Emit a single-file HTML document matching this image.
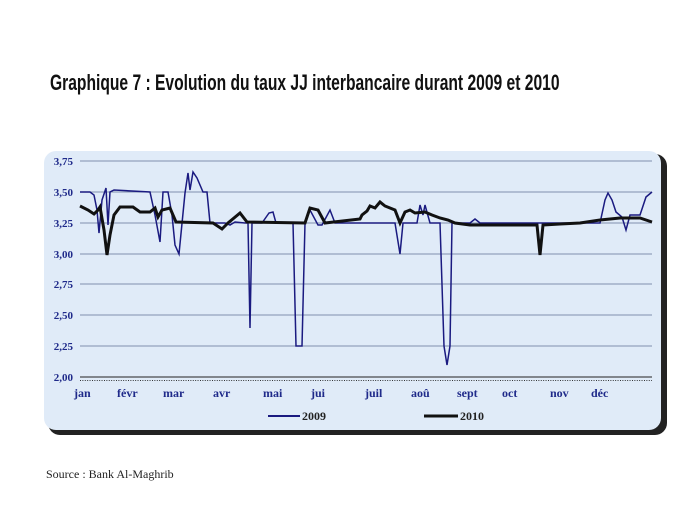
<!DOCTYPE html>
<html><head><meta charset="utf-8"><style>
body{margin:0;background:#fff;width:682px;height:512px;overflow:hidden;position:relative;font-family:"Liberation Serif",serif}
.t{position:absolute;left:50px;top:70px;font-family:"Liberation Sans",sans-serif;font-weight:bold;font-size:22px;transform:scaleX(0.71);transform-origin:left top;white-space:nowrap;color:#111}
.src{position:absolute;left:46px;top:467px;font-size:12px;color:#222}
</style></head><body>
<div class="t">Graphique 7 : Evolution du taux JJ interbancaire durant 2009 et 2010</div>
<svg width="682" height="512" style="position:absolute;left:0;top:0">
<defs><pattern id="tk" x="80" y="0" width="2.4" height="10" patternUnits="userSpaceOnUse"><rect x="0" y="0" width="0.9" height="4" fill="#222"/></pattern></defs>
<rect x="48" y="154" width="619" height="281" rx="12" fill="#222"/>
<rect x="44" y="151" width="617" height="279" rx="12" fill="#e0ebf8"/>
<g stroke="#7f8fae" stroke-width="1">
<line x1="80" x2="652" y1="161" y2="161"/><line x1="80" x2="652" y1="192" y2="192"/><line x1="80" x2="652" y1="223" y2="223"/><line x1="80" x2="652" y1="254" y2="254"/><line x1="80" x2="652" y1="284" y2="284"/><line x1="80" x2="652" y1="315" y2="315"/><line x1="80" x2="652" y1="346" y2="346"/>
</g>
<line x1="80" x2="652" y1="377" y2="377" stroke="#222"/>
<rect x="80" y="377" width="572" height="4" fill="url(#tk)"/>
<g font-weight="bold" font-size="11" fill="#1f2a8a" font-family="Liberation Serif,serif">
<text x="73" y="165" text-anchor="end">3,75</text><text x="73" y="196" text-anchor="end">3,50</text><text x="73" y="227" text-anchor="end">3,25</text><text x="73" y="258" text-anchor="end">3,00</text><text x="73" y="288" text-anchor="end">2,75</text><text x="73" y="319" text-anchor="end">2,50</text><text x="73" y="350" text-anchor="end">2,25</text><text x="73" y="381" text-anchor="end">2,00</text>
<g font-size="12"><text x="74" y="397">jan</text><text x="117" y="397">févr</text><text x="163" y="397">mar</text><text x="213" y="397">avr</text><text x="263" y="397">mai</text><text x="311" y="397">jui</text><text x="365" y="397">juil</text><text x="411" y="397">aoû</text><text x="457" y="397">sept</text><text x="502" y="397">oct</text><text x="550" y="397">nov</text><text x="591" y="397">déc</text></g>
</g>
<polyline fill="none" stroke="#1a1a80" stroke-width="1.5" points="80,192 90,192 94,195 97,210 99,233 102,200 106,188 108,225 110,192 114,190 150,192 155,215 160,242 163,192 168,192 172,215 175,245 179,254 185,193 188,173 190,190 193,172 197,178 203,192 207,192 210,223 225,223 230,225 235,222 245,223 248,223 250,328 252,223 262,223 269,213 273,212 276,223 293,223 296,346 302,346 305,223 310,210 318,225 322,225 330,210 335,223 395,223 400,254 403,223 417,223 420,205 423,215 425,205 430,223 440,223 444,346 447,365 450,346 452,223 470,223 475,219 480,223 600,223 605,200 608,193 612,200 616,212 622,217 626,230 630,215 640,215 646,197 652,192"/>
<polyline fill="none" stroke="#111" stroke-width="3" points="80,206 88,210 94,214 98,210 100,207 104,230 107,255 110,235 114,215 120,207 133,207 140,212 150,212 155,208 158,217 162,210 170,208 176,222 213,223 222,229 228,223 240,213 247,222 305,223 310,208 318,210 325,223 360,219 362,215 367,211 370,206 375,208 380,202 385,206 390,208 395,210 400,223 405,212 410,210 415,213 425,212 432,215 440,218 448,220 455,223 470,225 530,225 537,225 540,255 543,225 560,224 580,223 600,220 620,218 640,218 652,222"/>
<line x1="268" x2="300" y1="416" y2="416" stroke="#1a1a80" stroke-width="2"/>
<text x="302" y="420" font-size="12" font-weight="bold" fill="#222">2009</text>
<line x1="424" x2="458" y1="416" y2="416" stroke="#111" stroke-width="3"/>
<text x="460" y="420" font-size="12" font-weight="bold" fill="#222">2010</text>
</svg>
<div class="src">Source : Bank Al-Maghrib</div>
</body></html>
